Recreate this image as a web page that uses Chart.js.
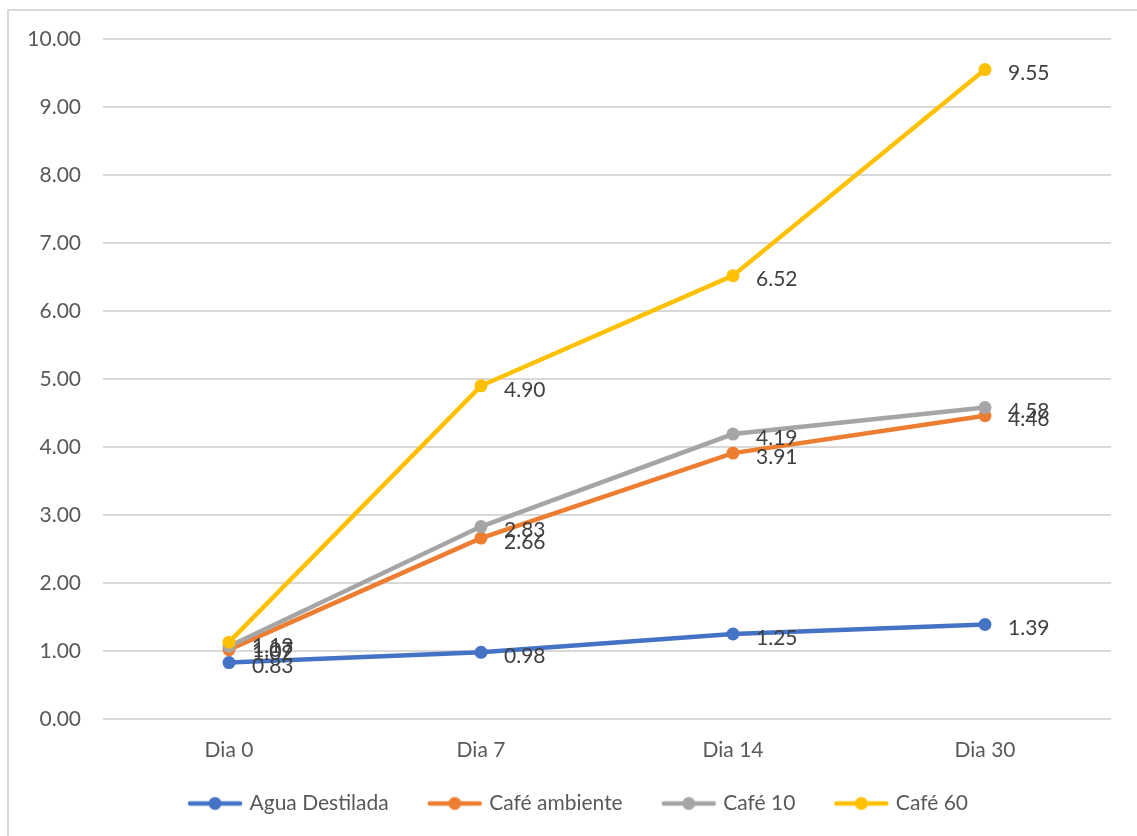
<!DOCTYPE html>
<html>
<head>
<meta charset="utf-8">
<script src="https://cdn.jsdelivr.net/npm/chart.js@4"></script>
<style>
  body { margin: 0; background: #fff; overflow: hidden; }
  #frame { position: absolute; left: 7px; top: 9px; width: 1200px; height: 900px;
           border-top: 2px solid #d9d9d9; border-left: 2px solid #d9d9d9; }
  #wrap { position: absolute; left: 0; top: 0; width: 1137px; height: 836px; }
</style>
</head>
<body>
<div id="frame"></div>
<div id="wrap"><canvas id="chart" width="1137" height="836"></canvas></div>
<script>
const days = ['Dia 0', 'Dia 7', 'Dia 14', 'Dia 30'];
const seriesNames = ['Agua Destilada', 'Café ambiente', 'Café 10', 'Café 60'];
const aguaDestilada = [0.83, 0.98, 1.25, 1.39];
const cafeAmbiente = [1.02, 2.66, 3.91, 4.46];
const cafe10 = [1.07, 2.83, 4.19, 4.58];
const cafe60 = [1.13, 4.90, 6.52, 9.55];
const yTicks = [0, 1, 2, 3, 4, 5, 6, 7, 8, 9, 10];

const colors = ['#4472C4', '#ED7D31', '#A5A5A5', '#FFC000'];
const FONT = 'Lato, "Open Sans", sans-serif';
const FS = 21;

// legend marker: short line with a dot in the middle
function marker(color) {
    const c = document.createElement('canvas');
    c.width = 56; c.height = 16;
    const g = c.getContext('2d');
    g.strokeStyle = color;
    g.lineWidth = 4.5;
    g.lineCap = 'round';
    g.beginPath(); g.moveTo(3, 8); g.lineTo(53, 8); g.stroke();
    g.fillStyle = color;
    g.beginPath(); g.arc(28, 8, 6.5, 0, Math.PI * 2); g.fill();
    return c;
}

const valueLabels = {
    id: 'valueLabels',
    afterDatasetsDraw(chart) {
        const ctx = chart.ctx;
        ctx.save();
        ctx.font = FS + 'px ' + FONT;
        ctx.fillStyle = '#404040';
        ctx.textBaseline = 'middle';
        ctx.textAlign = 'left';
        chart.data.datasets.forEach((ds, i) => {
            chart.getDatasetMeta(i).data.forEach((pt, j) => {
                ctx.fillText(ds.data[j].toFixed(2), pt.x + 23, pt.y + 4);
            });
        });
        ctx.restore();
    }
};

// nudge the legend box a bit (right and up)
const legendNudge = {
    id: 'legendNudge',
    afterLayout(chart) {
        const lg = chart.legend;
        if (!lg) return;
        lg.left += 24; lg.right += 24;
        lg.top -= 8; lg.bottom -= 8;
    }
};

const allSeries = [aguaDestilada, cafeAmbiente, cafe10, cafe60];

const data = {
    labels: days,
    datasets: allSeries.map((vals, i) => ({
        label: seriesNames[i],
        data: vals,
        borderColor: colors[i],
        backgroundColor: colors[i],
        pointBackgroundColor: colors[i],
        pointBorderColor: colors[i],
        borderWidth: 4.5,
        pointRadius: 6.5,
        pointBorderWidth: 0,
        tension: 0,
        order: 4 - i,
    })),
};

const ctx = document.getElementById('chart').getContext('2d');
const myChart = new Chart(ctx, {
    type: 'line',
    data: data,
    plugins: [valueLabels, legendNudge],
    options: {
        responsive: false,
        animation: false,
        layout: { padding: { left: 0, right: 26, top: 39, bottom: 4 } },
        plugins: {
            tooltip: { enabled: false },
            legend: {
                position: 'bottom',
                labels: {
                    usePointStyle: true,
                    pointStyleWidth: 48,
                    boxHeight: 16,
                    padding: 42,
                    color: '#595959',
                    font: { family: FONT, size: FS },
                    generateLabels: (chart) => chart.data.datasets.map((ds, i) => ({
                        text: ds.label,
                        pointStyle: marker(colors[i]),
                        fillStyle: colors[i],
                        strokeStyle: colors[i],
                        lineWidth: 0,
                        fontColor: '#595959',
                        datasetIndex: i,
                        hidden: false,
                    })),
                },
            },
        },
        scales: {
            x: {
                offset: true,
                grid: { display: false },
                border: { display: false },
                ticks: { color: '#595959', font: { family: FONT, size: FS }, padding: 11 },
                afterFit: (s) => { s.height = 40; },
            },
            y: {
                min: 0,
                max: 10,
                afterBuildTicks: (s) => { s.ticks = yTicks.map(v => ({ value: v })); },
                afterFit: (s) => { s.width = 103; },
                grid: { color: '#d9d9d9', lineWidth: 2, drawTicks: false },
                border: { display: false },
                ticks: {
                    color: '#595959',
                    font: { family: FONT, size: FS },
                    padding: 22,
                    callback: (v) => Number(v).toFixed(2),
                },
            },
        },
    },
});
</script>
</body>
</html>
